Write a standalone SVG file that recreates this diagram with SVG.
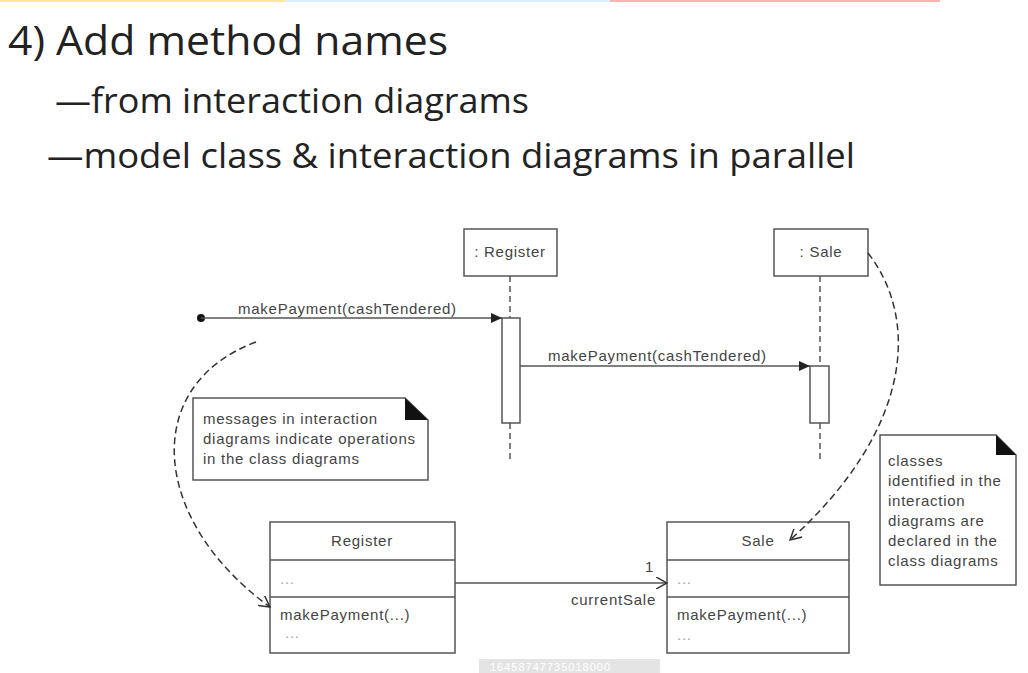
<svg xmlns="http://www.w3.org/2000/svg" width="1028" height="673" viewBox="0 0 1028 673">
<defs>
<style>
.t{font-family:"Open Sans","Noto Sans",sans-serif;fill:#222}
.d{font-family:"Liberation Sans",Arial,sans-serif;font-size:15px;letter-spacing:0.75px;fill:#444}
.box{fill:#fff;stroke:#555;stroke-width:1.5}
.ln{fill:none;stroke:#555;stroke-width:1.5}
.ll{fill:none;stroke:#555;stroke-width:1.5;stroke-dasharray:6,4}
.cv{fill:none;stroke:#333;stroke-width:1.5;stroke-dasharray:7,4}
.faint{fill:#aaa}
</style>
<marker id="fill" markerWidth="12" markerHeight="10" refX="11" refY="5" orient="auto" markerUnits="userSpaceOnUse"><path d="M0,0 L11,5 L0,10 Z" fill="#222"/></marker>
<marker id="open" markerWidth="12" markerHeight="12" refX="11" refY="6" orient="auto" markerUnits="userSpaceOnUse"><path d="M0,0 L11,6 L0,12" fill="none" stroke="#333" stroke-width="1.5"/></marker>
</defs>
<rect width="1028" height="673" fill="#fff"/>
<rect x="0" y="0" width="285" height="2" fill="#ffe6a0"/>
<rect x="285" y="0" width="325" height="2" fill="#d6effb"/>
<rect x="610" y="0" width="330" height="2" fill="#ffb3b3"/>

<g id="title">
<text class="t" x="8" y="55" font-size="41" textLength="440" lengthAdjust="spacingAndGlyphs">4) Add method names</text>
<text class="t" x="55" y="113" font-size="34" textLength="474" lengthAdjust="spacingAndGlyphs">—from interaction diagrams</text>
<text class="t" x="47" y="168" font-size="34" textLength="808" lengthAdjust="spacingAndGlyphs">—model class &amp; interaction diagrams in parallel</text>
</g>

<g id="obj-register">
<rect class="box" x="464" y="229" width="93" height="47"/>
<text class="d" x="510" y="257" text-anchor="middle">: Register</text>
<line class="ll" x1="510" y1="276" x2="510" y2="318"/>
<rect class="box" x="502" y="318" width="18" height="105"/>
<line class="ll" x1="510" y1="423" x2="510" y2="462"/>
</g>

<g id="obj-sale">
<rect class="box" x="774" y="229" width="94" height="47"/>
<text class="d" x="821" y="257" text-anchor="middle">: Sale</text>
<line class="ll" x1="820" y1="276" x2="820" y2="366"/>
<rect class="box" x="810" y="366" width="19" height="57"/>
<line class="ll" x1="820" y1="423" x2="820" y2="462"/>
</g>

<g id="note-messages">
<path class="box" d="M193,398 H405 L428,420 V480 H193 Z"/>
<path d="M405,398 L428,420 H405 Z" fill="#111"/>
<text class="d" x="203" y="424">messages in interaction</text>
<text class="d" x="203" y="444">diagrams indicate operations</text>
<text class="d" x="203" y="464">in the class diagrams</text>
</g>

<g id="note-classes">
<path class="box" d="M880,435 H996 L1016,455 V585 H880 Z"/>
<path d="M996,435 L1016,455 H996 Z" fill="#111"/>
<text class="d" x="888" y="466">classes</text>
<text class="d" x="888" y="486">identified in the</text>
<text class="d" x="888" y="506">interaction</text>
<text class="d" x="888" y="526">diagrams are</text>
<text class="d" x="888" y="546">declared in the</text>
<text class="d" x="888" y="566">class diagrams</text>
</g>

<g id="class-register">
<rect class="box" x="270" y="522" width="185" height="131"/>
<line class="ln" x1="270" y1="560" x2="455" y2="560"/>
<line class="ln" x1="270" y1="597" x2="455" y2="597"/>
<text class="d" x="362" y="546" text-anchor="middle">Register</text>
<text class="d faint" x="280" y="584">...</text>
<text class="d" x="280" y="620">makePayment(...)</text>
<text class="d faint" x="285" y="638" font-size="9">...</text>
</g>

<g id="class-sale">
<rect class="box" x="667" y="522" width="182" height="131"/>
<line class="ln" x1="667" y1="560" x2="849" y2="560"/>
<line class="ln" x1="667" y1="597" x2="849" y2="597"/>
<text class="d" x="758" y="546" text-anchor="middle">Sale</text>
<text class="d faint" x="677" y="584">...</text>
<text class="d" x="677" y="620">makePayment(...)</text>
<text class="d faint" x="677" y="640" font-size="9">...</text>
</g>

<g id="connectors">
<circle cx="201" cy="318" r="4" fill="#111"/>
<line class="ln" x1="201" y1="318" x2="502" y2="318" marker-end="url(#fill)"/>
<text class="d" x="238" y="314">makePayment(cashTendered)</text>
<line class="ln" x1="520" y1="366" x2="810" y2="366" marker-end="url(#fill)"/>
<text class="d" x="548" y="361">makePayment(cashTendered)</text>
<line class="ln" x1="455" y1="583" x2="667" y2="583" marker-end="url(#open)"/>
<text class="d" x="645" y="572">1</text>
<text class="d" x="656" y="605" text-anchor="end">currentSale</text>
<path class="cv" d="M256,342 C140,385 150,520 270,607" marker-end="url(#open)"/>
<path class="cv" d="M868,253 C920,320 912,430 790,540" marker-end="url(#open)"/>
</g>

<g id="footer">
<rect x="479" y="659" width="181" height="14" fill="#e4e4e4"/>
<text x="490" y="671" font-family="Liberation Sans, Arial, sans-serif" font-size="11" fill="#fff" letter-spacing="1">16458747735018000</text>
</g>
</svg>
